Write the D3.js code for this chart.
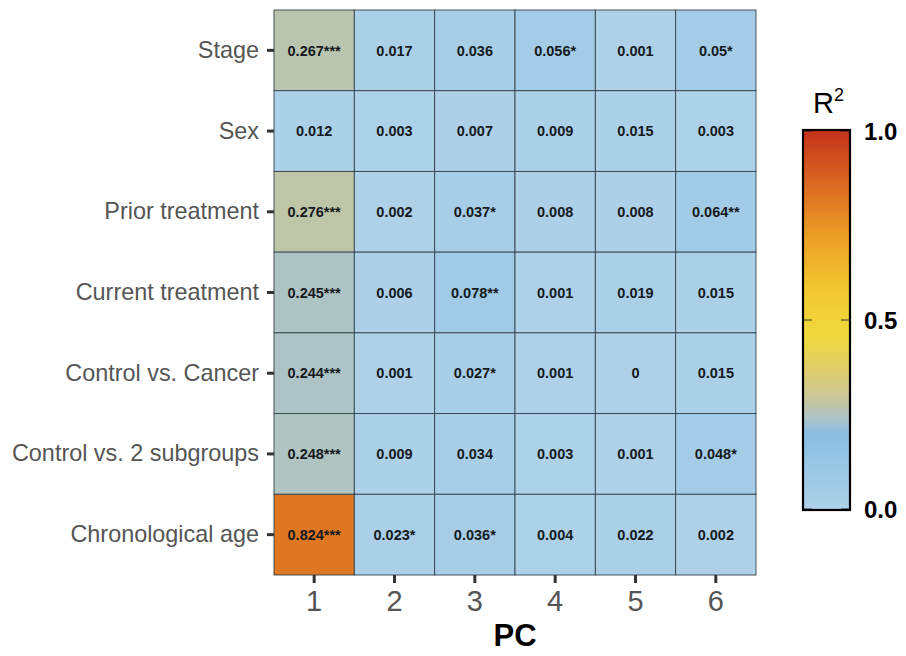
<!DOCTYPE html>
<html>
<head>
<meta charset="utf-8">
<script src="https://cdn.jsdelivr.net/npm/d3@7"></script>
<style>
  html, body { margin: 0; padding: 0; background: #fff; }
  svg { display: block; font-family: "Liberation Sans", Arial, sans-serif; }
</style>
</head>
<body>
<svg id="chart" width="906" height="656"></svg>
<script>
// Variables (rows, top to bottom) and principal components (columns)
const variables = ["Stage", "Sex", "Prior treatment", "Current treatment",
  "Control vs. Cancer", "Control vs. 2 subgroups", "Chronological age"];
const components = ["1", "2", "3", "4", "5", "6"];

// R² of each variable against each PC
const r2Values = [
  [0.267, 0.017, 0.036, 0.056, 0.001, 0.05],
  [0.012, 0.003, 0.007, 0.009, 0.015, 0.003],
  [0.276, 0.002, 0.037, 0.008, 0.008, 0.064],
  [0.245, 0.006, 0.078, 0.001, 0.019, 0.015],
  [0.244, 0.001, 0.027, 0.001, 0, 0.015],
  [0.248, 0.009, 0.034, 0.003, 0.001, 0.048],
  [0.824, 0.023, 0.036, 0.004, 0.022, 0.002]
];

// Significance marks
const stars = [
  ["***", "", "", "*", "", "*"],
  ["", "", "", "", "", ""],
  ["***", "", "*", "", "", "**"],
  ["***", "", "**", "", "", ""],
  ["***", "", "*", "", "", ""],
  ["***", "", "", "", "", "*"],
  ["***", "*", "*", "", "", ""]
];

const legendTicks = [0, 0.5, 1];

// Colour ramp: light blue -> blue -> grey -> yellow -> orange -> red
const colorStops = [0, 0.2, 0.24, 0.27, 0.3, 0.38, 0.46, 0.58, 0.72, 0.85, 1];
const colorRange = ["#aed1e8", "#8abee2", "#abc3c9", "#bcc5ad", "#cbc896", "#e2d064",
  "#f0d93c", "#f2c830", "#eb9e26", "#dc6c21", "#c3311b"];
const color = d3.scaleLinear().domain(colorStops).range(colorRange)
  .interpolate(d3.interpolateRgb).clamp(true);

const svg = d3.select("#chart");
const margin = { left: 274, top: 10, right: 756, bottom: 575 };

const x = d3.scaleBand().domain(components).range([margin.left, margin.right]);
const y = d3.scaleBand().domain(variables).range([margin.top, margin.bottom]);

const cells = [];
variables.forEach((v, i) => components.forEach((c, j) => {
  cells.push({ v, c, r2: r2Values[i][j], star: stars[i][j] });
}));

// Tiles
svg.append("g").selectAll("rect").data(cells).join("rect")
  .attr("x", d => x(d.c))
  .attr("y", d => y(d.v))
  .attr("width", x.bandwidth())
  .attr("height", y.bandwidth())
  .attr("fill", d => color(d.r2))
  .attr("stroke", "#34434d")
  .attr("stroke-width", 0.9);

// Cell labels
svg.append("g").selectAll("text").data(cells).join("text")
  .attr("x", d => x(d.c) + x.bandwidth() / 2)
  .attr("y", d => y(d.v) + y.bandwidth() / 2)
  .attr("dy", "0.36em")
  .attr("text-anchor", "middle")
  .attr("font-size", 14.5)
  .attr("font-weight", "bold")
  .attr("fill", "#151a1e")
  .text(d => String(d.r2) + d.star);

// Y axis
const yAxis = svg.append("g")
  .attr("transform", `translate(${margin.left},0)`)
  .call(d3.axisLeft(y).tickSize(7).tickPadding(8));
yAxis.select(".domain").remove();
yAxis.selectAll(".tick line").attr("stroke", "#333").attr("stroke-width", 3);
yAxis.selectAll(".tick text")
  .attr("font-size", 23.4).attr("fill", "#555")
  .attr("font-family", "'Liberation Sans', Arial, sans-serif");

// X axis
const xAxis = svg.append("g")
  .attr("transform", `translate(0,${margin.bottom})`)
  .call(d3.axisBottom(x).tickSize(8).tickPadding(7));
xAxis.select(".domain").remove();
xAxis.selectAll(".tick line").attr("stroke", "#333").attr("stroke-width", 3);
xAxis.selectAll(".tick text")
  .attr("font-size", 29).attr("fill", "#555")
  .attr("font-family", "'Liberation Sans', Arial, sans-serif");

svg.append("text")
  .attr("x", (margin.left + margin.right) / 2)
  .attr("y", 646)
  .attr("text-anchor", "middle")
  .attr("font-size", 31)
  .attr("font-weight", "bold")
  .attr("fill", "#000")
  .text("PC");

// Colour bar legend
const bar = { x: 803, y0: 130, y1: 510, w: 47 };
const legendY = d3.scaleLinear().domain([0, 1]).range([bar.y1 - 1, bar.y0 + 1]);

const defs = svg.append("defs");
const grad = defs.append("linearGradient")
  .attr("id", "r2grad").attr("x1", 0).attr("y1", 1).attr("x2", 0).attr("y2", 0);
d3.range(0, 1.0001, 0.01).forEach(t => {
  grad.append("stop").attr("offset", t).attr("stop-color", color(t));
});

svg.append("rect")
  .attr("x", bar.x).attr("y", bar.y0)
  .attr("width", bar.w).attr("height", bar.y1 - bar.y0)
  .attr("fill", "url(#r2grad)");

// Tick marks inside the bar
const lg = svg.append("g");
lg.selectAll("line.l").data(legendTicks).join("line")
  .attr("x1", bar.x).attr("x2", bar.x + 9)
  .attr("y1", d => legendY(d)).attr("y2", d => legendY(d))
  .attr("stroke", "#333").attr("stroke-width", 1);
lg.selectAll("line.r").data(legendTicks).join("line")
  .attr("x1", bar.x + bar.w - 9).attr("x2", bar.x + bar.w)
  .attr("y1", d => legendY(d)).attr("y2", d => legendY(d))
  .attr("stroke", "#333").attr("stroke-width", 1);

svg.append("rect")
  .attr("x", bar.x).attr("y", bar.y0)
  .attr("width", bar.w).attr("height", bar.y1 - bar.y0)
  .attr("fill", "none").attr("stroke", "#000").attr("stroke-width", 2.2);

lg.selectAll("text").data(legendTicks).join("text")
  .attr("x", 864)
  .attr("y", d => legendY(d))
  .attr("dy", "0.36em")
  .attr("font-size", 24)
  .attr("font-weight", "bold")
  .attr("fill", "#000")
  .text(d => d3.format(".1f")(d));

// Legend title R²
const title = svg.append("text")
  .attr("x", 813).attr("y", 113)
  .attr("font-size", 29).attr("fill", "#000");
title.append("tspan").text("R");
title.append("tspan").attr("font-size", 18).attr("dy", -12).text("2");
</script>
</body>
</html>
